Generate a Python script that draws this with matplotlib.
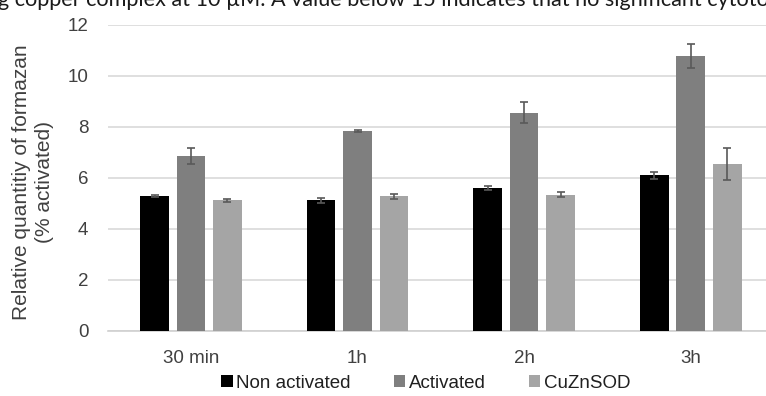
import numpy as np
import matplotlib
import matplotlib.pyplot as plt

matplotlib.use('Agg')

# formazan quantity per time point, three conditions
times = ['30 min', '1h', '2h', '3h']
series = ['Non activated', 'Activated', 'CuZnSOD']
non_act = [5.28, 5.11, 5.61, 6.09]
non_act_err = [0.03, 0.10, 0.08, 0.15]
act = [6.85, 7.83, 8.55, 10.78]
act_err = [0.30, 0.05, 0.42, 0.47]
sod = [5.11, 5.28, 5.33, 6.53]
sod_err = [0.06, 0.10, 0.09, 0.63]
yticks = [0, 2, 4, 6, 8, 10, 12]

caption = 'g copper complex at 10 \u00b5M. A value below 15 indicates that no significant cytotoxicity'

colors = ['#000000', '#7f7f7f', '#a5a5a5']
plt.rcParams['font.family'] = ['Liberation Sans', 'DejaVu Sans']

fig = plt.figure(figsize=(7.66, 3.96), dpi=100)
W, H = 766, 396
# axes placed in pixel terms, right side runs past the figure edge
left, right, top, bottom = 107.7, 774.0, 24.7, 330.7
ax = fig.add_axes([left / W, 1 - bottom / H, (right - left) / W, (bottom - top) / H])

x = np.arange(len(times))
w = 0.172
off = 0.219
for k, (vals, errs) in enumerate([(non_act, non_act_err), (act, act_err), (sod, sod_err)]):
    ax.bar(x + (k - 1) * off, vals, w, color=colors[k], label=series[k], zorder=3,
           yerr=errs, error_kw=dict(ecolor='#595959', elinewidth=1.2, capsize=3, capthick=1.2, zorder=4))

ax.set_xlim(-0.5, 3.5)
ax.set_ylim(0, 12)
ax.set_yticks(yticks)
ax.set_xticks(x)
ax.set_xticklabels(times)
ax.yaxis.grid(True, color='#d9d9d9', linewidth=1.2, zorder=0)
ax.set_axisbelow(True)
for s in ['top', 'right', 'left']:
    ax.spines[s].set_visible(False)
ax.spines['bottom'].set_color('#d0d0d0')
ax.spines['bottom'].set_linewidth(1.2)
ax.tick_params(axis='both', length=0, labelsize=13.5, colors='#404040')
ax.tick_params(axis='y', pad=14)
ax.tick_params(axis='x', pad=14)

fig.text(33 / W, 1 - 182 / H, 'Relative quantitiy of formazan\n(% activated)', rotation=90,
         ha='center', va='center', fontsize=15, color='#404040', linespacing=1.25)

leg = fig.legend(loc='center', bbox_to_anchor=(426 / W, 1 - 383 / H), ncol=3, frameon=False,
                 fontsize=13.5, handlelength=0.6, handleheight=0.6, handletextpad=0.2,
                 columnspacing=2.3, labelcolor='#202020')

fig.text(-0.002, 1 - 6 / H, caption, ha='left', va='baseline', fontsize=15.6,
         family=['Lato', 'DejaVu Sans'], color='#1a1a1a')

fig.savefig('out.png', dpi=100)
